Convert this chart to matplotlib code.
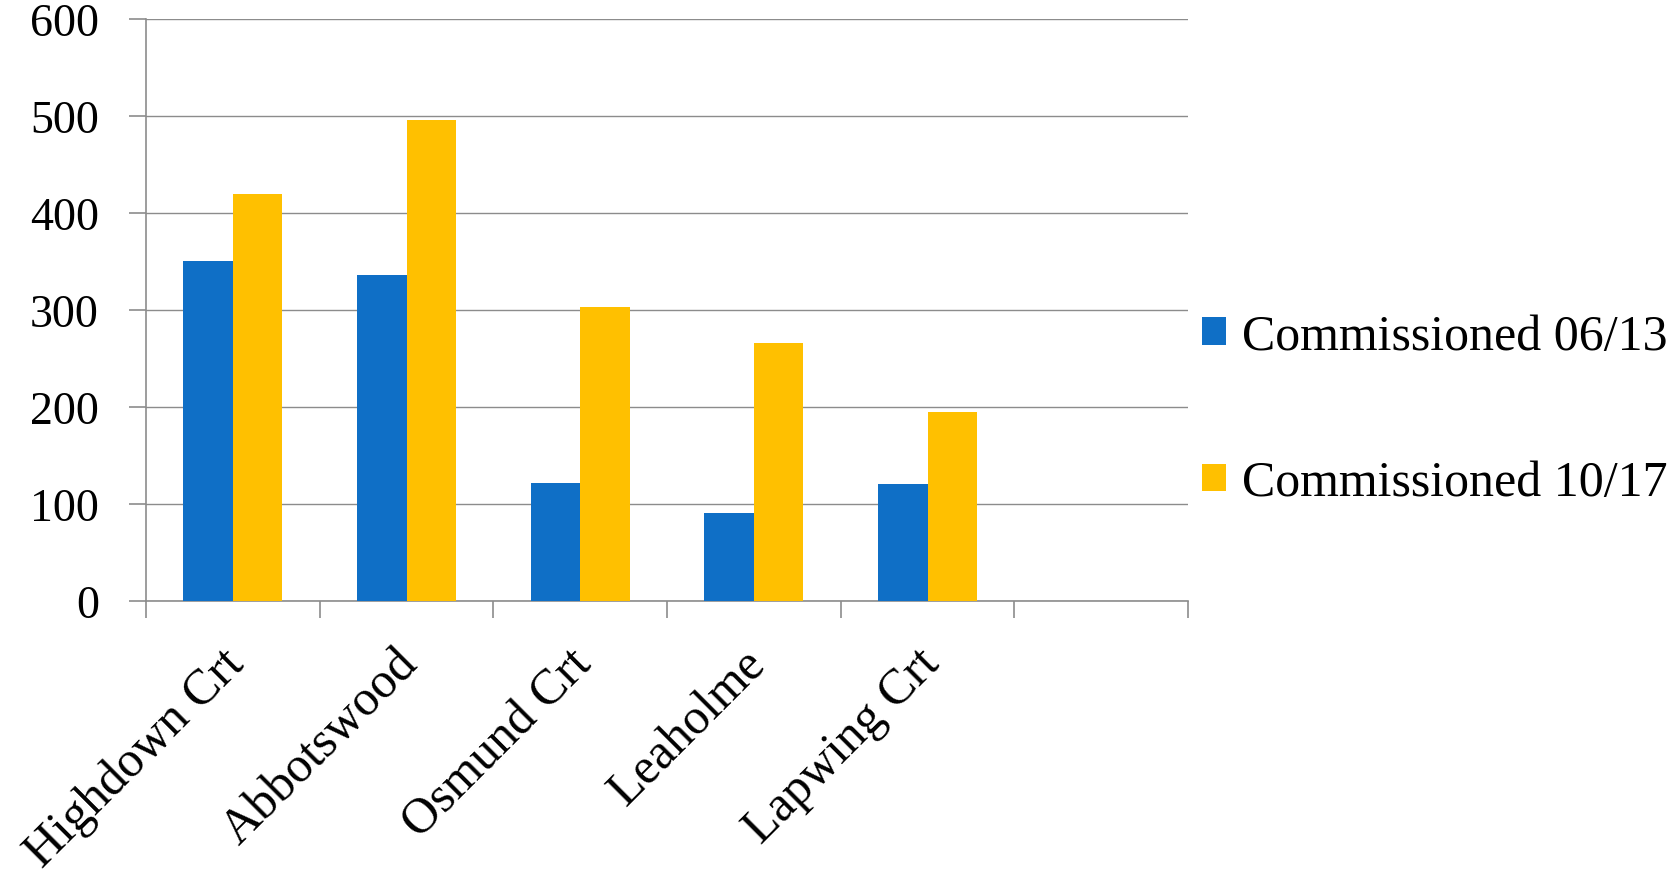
import matplotlib
matplotlib.use('Agg')
import matplotlib.pyplot as plt
from matplotlib.ticker import FixedLocator, NullFormatter
from matplotlib.transforms import ScaledTranslation
import numpy as np

categories = ['Highdown Crt', 'Abbotswood', 'Osmund Crt', 'Leaholme', 'Lapwing Crt', '']
series_names = ['Commissioned 06/13', 'Commissioned 10/17']
vals_0613 = [350, 336, 122, 91, 121, None]
vals_1017 = [420, 496, 303, 266, 195, None]
colors = ['#0F6FC6', '#FFC000']
y_ticks = [0, 100, 200, 300, 400, 500, 600]

plt.rcParams['font.family'] = ['Liberation Serif', 'DejaVu Serif']

fig = plt.figure(figsize=(16.71, 8.78), dpi=100)
ax = fig.add_axes([0.0874, 0.3144, 0.6236, 0.6628])

x = np.arange(len(categories))
w = 0.285
for i, (vals, name) in enumerate(zip([vals_0613, vals_1017], series_names)):
	xs = [xi for xi, v in zip(x, vals) if v is not None]
	hs = [v for v in vals if v is not None]
	ax.bar(np.array(xs) + (i - 0.5) * w, hs, width=w, color=colors[i], label=name, zorder=3)

ax.set_xlim(-0.5, len(categories) - 0.5)
ax.set_ylim(0, 600)
ax.set_yticks(y_ticks)
ax.set_yticklabels([str(t) for t in y_ticks], fontsize=33)
ax.yaxis.grid(True, color='#8c8c8c', linewidth=1.0, zorder=0)

# boundaries get tick marks, centers get labels
ax.xaxis.set_major_locator(FixedLocator(np.arange(-0.5, len(categories), 1.0)))
ax.xaxis.set_major_formatter(NullFormatter())
ax.set_xticks(x, minor=True)
ax.set_xticklabels(categories, minor=True, rotation=45, ha='right',
	rotation_mode='anchor', fontsize=36)
ax.tick_params(axis='x', which='minor', length=0, pad=28)
ax.tick_params(axis='x', which='major', length=12, color='#8c8c8c', width=1.2)
ax.tick_params(axis='y', length=12, color='#8c8c8c', width=1.2, pad=22)

shift = ScaledTranslation(-12 / 100, 0, fig.dpi_scale_trans)
for lab in ax.xaxis.get_minorticklabels():
	lab.set_transform(lab.get_transform() + shift)

for s in ['top', 'right']:
	ax.spines[s].set_visible(False)
for s in ['left', 'bottom']:
	ax.spines[s].set_color('#8c8c8c')
	ax.spines[s].set_linewidth(1.2)

fig.legend(loc='center left', bbox_to_anchor=(0.7195, 0.532), frameon=False,
	fontsize=36, handlelength=0.47, handleheight=0.47, handletextpad=0.32,
	labelspacing=2.0, borderpad=0, borderaxespad=0)

plt.savefig('out.png', dpi=100)
